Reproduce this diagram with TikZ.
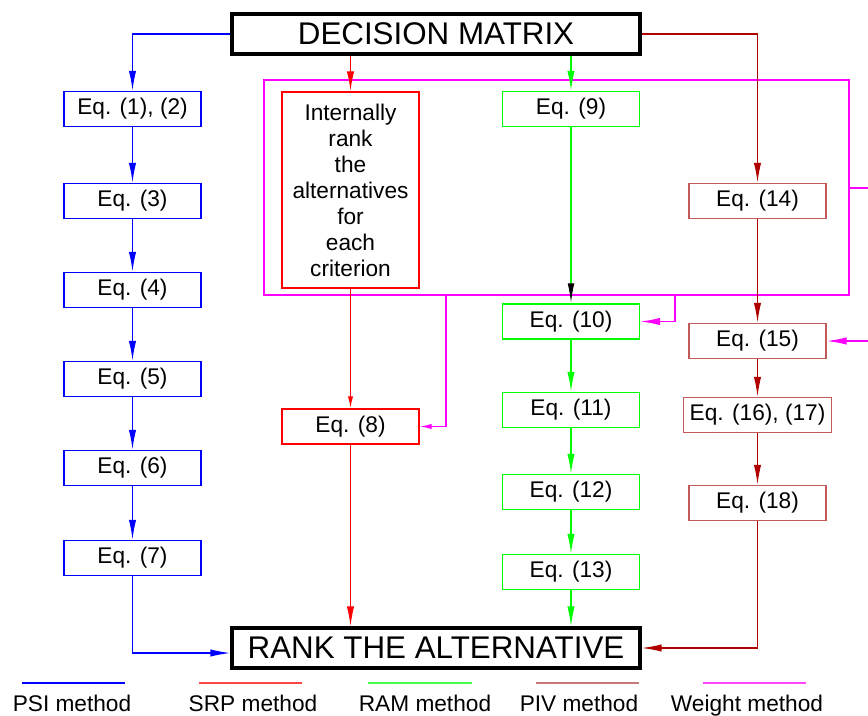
\documentclass[tikz,border=0pt]{standalone}
\usepackage{fontspec}
\setmainfont{Liberation Sans}
\usetikzlibrary{arrows.meta}
\definecolor{psic}{RGB}{0,0,255}
\definecolor{srpc}{RGB}{255,0,0}
\definecolor{ramc}{RGB}{0,255,0}
\definecolor{pivc}{RGB}{175,0,0}
\definecolor{pivbox}{RGB}{195,90,90}
\definecolor{wtc}{RGB}{255,0,255}
\definecolor{srpleg}{RGB}{255,70,70}
\definecolor{ramleg}{RGB}{70,255,70}
\definecolor{pivleg}{RGB}{200,120,120}
\definecolor{wtleg}{RGB}{255,70,255}
\tikzset{
  eqfont/.style={font=\fontsize{17}{19.5}\selectfont},
  bigbox/.style={draw=black, line width=2.4pt, minimum width=306pt, minimum height=30pt,
    inner sep=0pt, font=\fontsize{23.5}{26}\selectfont},
  eqbox/.style={draw, line width=1.1pt, minimum width=102.75pt, minimum height=26.25pt,
    inner sep=0pt, eqfont, fill=white},
  arr/.style={line width=1pt, -{Latex[length=15pt, width=5.5pt]}},
  smallarr/.style={line width=1pt, -{Latex[length=9pt, width=4pt]}},
  conn/.style={line width=1pt},
  legline/.style={line width=2pt},
  legtext/.style={anchor=base, font=\fontsize{17}{19}\selectfont, inner sep=0pt},
}
\begin{document}
\begin{tikzpicture}[x=0.75pt,y=-0.75pt]
\useasboundingbox (0,0) rectangle (868,716);

% weight method frame
\coordinate (wtl) at (264,80);
\coordinate (wbr) at (849,295);
\coordinate (wstub) at (868,188);
\coordinate (wfar) at (868,341);
\draw[conn, wtc] (wtl) rectangle (wbr);
\draw[conn, wtc] (wbr |- wstub) -- (wstub);

% main boxes
\node[bigbox] (dm) at (436,34) {DECISION MATRIX};
\node[bigbox] (rank) at (436,648) {RANK THE ALTERNATIVE};

% PSI column
\node[eqbox, draw=psic] (b1) at (132.5,109) {Eq. (1), (2)};
\node[eqbox, draw=psic] (b2) at (132.5,201) {Eq. (3)};
\node[eqbox, draw=psic] (b3) at (132.5,290) {Eq. (4)};
\node[eqbox, draw=psic] (b4) at (132.5,379) {Eq. (5)};
\node[eqbox, draw=psic] (b5) at (132.5,468) {Eq. (6)};
\node[eqbox, draw=psic] (b6) at (132.5,558) {Eq. (7)};

% SRP column
\node[eqbox, draw=srpc, minimum height=147pt, align=center] (int) at (350.5,190)
  {Internally\\rank\\the\\alternatives\\for\\each\\criterion};
\node[eqbox, draw=srpc] (e8) at (350.5,426.5) {Eq. (8)};

% RAM column
\node[eqbox, draw=ramc] (e9) at (571,109) {Eq. (9)};
\node[eqbox, draw=ramc] (e10) at (571,321.5) {Eq. (10)};
\node[eqbox, draw=ramc] (e11) at (571,410) {Eq. (11)};
\node[eqbox, draw=ramc] (e12) at (571,492) {Eq. (12)};
\node[eqbox, draw=ramc] (e13) at (571,572) {Eq. (13)};

% PIV column
\node[eqbox, draw=pivbox] (e14) at (757.5,201) {Eq. (14)};
\node[eqbox, draw=pivbox] (e15) at (757.5,341) {Eq. (15)};
\node[eqbox, draw=pivbox, minimum width=111pt] (e16) at (757.5,415) {Eq. (16), (17)};
\node[eqbox, draw=pivbox] (e18) at (757.5,503) {Eq. (18)};

% weight method arrows
\coordinate (w8) at (446,295);
\coordinate (w10) at (675,295);
\draw[smallarr, wtc] (w8) |- (e8.east);
\draw[arr, wtc] (w10) |- (e10.east);
\draw[arr, wtc] (wfar) -- (e15.east);

% PSI connectors
\draw[arr, psic] (dm.west) -| (b1.north);
\draw[arr, psic] (b1.south) -- (b2.north);
\draw[arr, psic] (b2.south) -- (b3.north);
\draw[arr, psic] (b3.south) -- (b4.north);
\draw[arr, psic] (b4.south) -- (b5.north);
\draw[arr, psic] (b5.south) -- (b6.north);
\draw[arr, psic] (b6.south) |- ([yshift=-3.75pt]rank.west);

% SRP connectors
\draw[arr, srpc] (int.north |- dm.south) -- (int.north);
\draw[smallarr, srpc] (int.south) -- (e8.north);
\draw[arr, srpc] (e8.south) -- (rank.north -| e8.south);

% RAM connectors
\draw[arr, ramc] (e9.north |- dm.south) -- (e9.north);
\draw[conn, ramc, -{Latex[length=15pt, width=5pt, black]}] (e9.south) -- (e10.north);
\draw[arr, ramc] (e10.south) -- (e11.north);
\draw[arr, ramc] (e11.south) -- (e12.north);
\draw[arr, ramc] (e12.south) -- (e13.north);
\draw[arr, ramc] (e13.south) -- (rank.north -| e13.south);

% PIV connectors
\draw[arr, pivc] (dm.east) -| (e14.north);
\draw[arr, pivc] (e14.south) -- (e15.north);
\draw[arr, pivc] (e15.south) -- (e16.north);
\draw[arr, pivc] (e16.south) -- (e18.north);
\draw[arr, pivc] (e18.south) |- (rank.east);

% legend
\coordinate (l1a) at (22,683);  \coordinate (l1b) at (125,683);
\coordinate (l2a) at (199,683); \coordinate (l2b) at (302,683);
\coordinate (l3a) at (368,683); \coordinate (l3b) at (472,683);
\coordinate (l4a) at (536,683); \coordinate (l4b) at (639,683);
\coordinate (l5a) at (703,683); \coordinate (l5b) at (806,683);
\draw[legline, psic] (l1a) -- (l1b);
\draw[legline, srpleg] (l2a) -- (l2b);
\draw[legline, ramleg] (l3a) -- (l3b);
\draw[legline, pivleg] (l4a) -- (l4b);
\draw[legline, wtleg] (l5a) -- (l5b);
\node[legtext] (t1) at (72,711) {PSI method};
\node[legtext] (t2) at (253,711) {SRP method};
\node[legtext] (t3) at (425,711) {RAM method};
\node[legtext] (t4) at (579,711) {PIV method};
\node[legtext] (t5) at (747,711) {Weight method};
\end{tikzpicture}
\end{document}
